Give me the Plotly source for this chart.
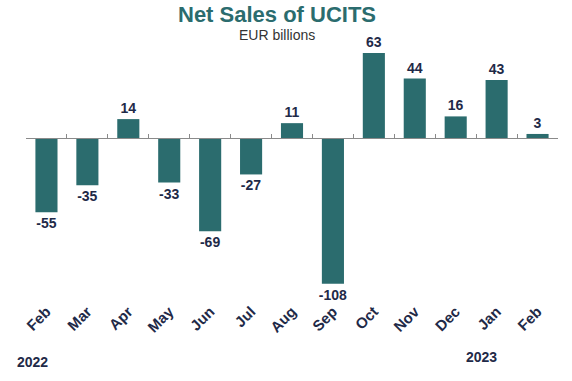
import plotly.graph_objects as go

months = ["Feb", "Mar", "Apr", "May", "Jun", "Jul", "Aug", "Sep", "Oct", "Nov", "Dec", "Jan", "Feb"]
net_sales = [-55, -35, 14, -33, -69, -27, 11, -108, 63, 44, 16, 43, 3]
years = ["2022", "2023"]
year_pos = [-0.35, 10.63]

TEAL = "#2b6c6e"
NAVY = "#1f2a48"
FONT = "Liberation Sans, Arial"

x = list(range(len(months)))
y_range = [-116.3, 80]

fig = go.Figure()
fig.add_trace(go.Bar(
    x=x, y=net_sales, marker=dict(color=TEAL, line=dict(width=0)),
    text=[str(v) for v in net_sales], textposition="outside",
    textfont=dict(family=FONT, size=14, color=NAVY),
    texttemplate="<b>%{text}</b>", cliponaxis=False, constraintext="none",
    hoverinfo="skip",
))
# invisible trace for the zero-line axis with ticks
fig.add_trace(go.Scatter(x=x, y=[0]*len(x), xaxis="x2", mode="markers",
                         marker=dict(opacity=0), hoverinfo="skip", showlegend=False))

zero_frac = -y_range[0] / (y_range[1] - y_range[0])

fig.update_layout(
    width=572, height=381,
    margin=dict(l=25.5, r=13.5, t=30, b=86, autoexpand=False),
    paper_bgcolor="white", plot_bgcolor="white",
    showlegend=False, bargap=0.46, hovermode=False,
    font=dict(family=FONT, color=NAVY),
    xaxis=dict(tickmode="array", tickvals=x, ticktext=[f"<b>{m}</b>" for m in months],
               tickangle=-45, tickfont=dict(size=15, color=NAVY), showline=False,
               showgrid=False, zeroline=False, ticks="", automargin=False,
               ticklabelstandoff=4, range=[-0.5, len(x) - 0.5]),
    xaxis2=dict(overlaying="x", anchor="free", position=zero_frac, side="bottom",
                range=[-0.5, len(x) - 0.5], showline=True, linecolor="#8a8a8a", linewidth=1,
                tickmode="array", tickvals=[i - 0.5 for i in range(len(x) + 1)],
                ticks="inside", ticklen=4, tickcolor="#8a8a8a", showticklabels=False,
                showgrid=False, zeroline=False, automargin=False),
    yaxis=dict(range=y_range, visible=False, showgrid=False, zeroline=False, automargin=False),
    annotations=[
        dict(text="<b>Net Sales of UCITS</b>", xref="paper", yref="paper", x=0.472, y=1,
             yshift=1, xanchor="center", yanchor="bottom", showarrow=False,
             font=dict(size=22, color=TEAL, family=FONT)),
        dict(text="EUR billions", xref="paper", yref="paper", x=0.472, y=1,
             xanchor="center", yanchor="top", yshift=5, showarrow=False,
             font=dict(size=14, color="#333333", family=FONT)),
        dict(text=f"<b>{years[0]}</b>", xref="x", yref="paper", x=year_pos[0], y=0,
             yshift=-67, xanchor="center", yanchor="middle", showarrow=False,
             font=dict(size=14, color=NAVY, family=FONT)),
        dict(text=f"<b>{years[1]}</b>", xref="x", yref="paper", x=year_pos[1], y=0,
             yshift=-62, xanchor="center", yanchor="middle", showarrow=False,
             font=dict(size=14, color=NAVY, family=FONT)),
    ],
)

fig.write_html("out.html", config={"displayModeBar": False, "staticPlot": True},
               post_script="document.body.style.margin='0';")
